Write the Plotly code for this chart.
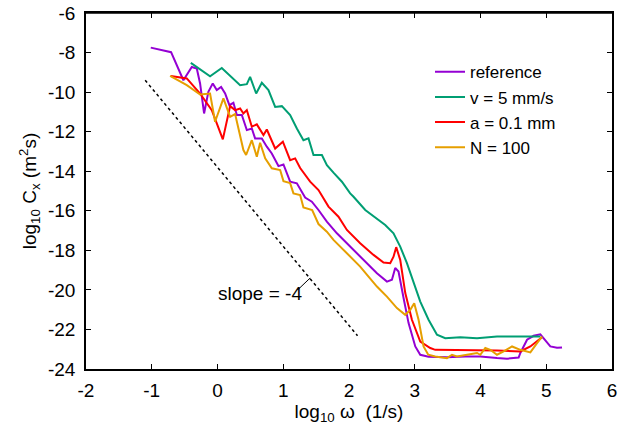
import plotly.graph_objects as go

# reference
ref_x = [-1.015, -0.706, -0.519, -0.391, -0.315, -0.265, -0.204, -0.139, -0.072, -0.011, 0.055, 0.116,
         0.181, 0.242, 0.294, 0.370, 0.446, 0.522, 0.572, 0.674, 0.750, 0.826, 0.927, 1.003, 1.105, 1.207,
         1.333, 1.435, 1.536, 1.663, 1.816, 2.018, 2.221, 2.425, 2.577, 2.653, 2.703, 2.753, 2.829, 2.906,
         3.008, 3.084, 3.210, 3.490, 3.769, 3.997, 4.251, 4.403, 4.580, 4.606, 4.708, 4.808, 4.910, 4.961,
         5.062, 5.164, 5.240]
ref_y = [-7.75, -7.98, -9.40, -8.73, -8.81, -9.56, -11.08, -9.99, -9.56, -9.90, -9.74, -10.07,
         -10.66, -10.54, -11.16, -11.16, -11.92, -11.84, -12.34, -12.34, -12.76, -13.10, -13.74, -13.66, -14.53, -14.61,
         -15.33, -15.54, -15.96, -16.55, -17.14, -17.81, -18.48, -19.16, -19.58, -19.49, -18.89, -19.07, -20.40, -21.68,
         -22.86, -23.28, -23.38, -23.40, -23.37, -23.37, -23.45, -23.48, -23.42, -23.19, -22.52, -22.32, -22.25, -22.44,
         -22.86, -22.93, -22.91]

# v = 5 mm/s
vel_x = [-0.406, -0.113, 0.065, 0.242, 0.344, 0.446, 0.496, 0.588, 0.674, 0.775, 0.877, 0.979, 1.105,
         1.207, 1.307, 1.384, 1.460, 1.588, 1.664, 1.764, 1.892, 2.018, 2.069, 2.247, 2.425, 2.551, 2.677,
         2.779, 2.881, 2.982, 3.084, 3.210, 3.338, 3.464, 3.693, 3.947, 4.251, 4.556, 4.910]
vel_y = [-8.52, -9.20, -8.78, -9.31, -9.65, -9.60, -9.23, -10.07, -9.53, -9.90, -10.75, -10.71, -11.16,
         -11.84, -12.43, -12.34, -13.18, -13.18, -13.69, -14.07, -14.53, -15.12, -15.29, -15.96, -16.38, -16.72, -17.14,
         -17.81, -18.65, -19.66, -20.59, -21.51, -22.27, -22.44, -22.39, -22.44, -22.36, -22.36, -22.36]

# a = 0.1 mm
amp_x = [-0.711, -0.467, -0.265, -0.087, -0.011, 0.081, 0.192, 0.268, 0.344, 0.394, 0.446, 0.522, 0.598,
         0.699, 0.750, 0.877, 0.994, 1.105, 1.181, 1.257, 1.409, 1.536, 1.688, 1.840, 1.968, 2.170, 2.373,
         2.525, 2.627, 2.677, 2.718, 2.779, 2.856, 2.957, 3.084, 3.236, 3.312, 3.743, 4.251, 4.606, 4.758, 4.936]
amp_y = [-9.18, -9.31, -10.07, -10.91, -11.58, -12.39, -10.71, -10.91, -10.83, -11.08, -10.91, -11.75, -11.63,
         -12.17, -11.89, -12.85, -12.51, -13.44, -13.35, -13.84, -14.53, -14.95, -15.79, -16.30, -16.97, -17.64, -18.23,
         -18.62, -18.65, -18.32, -17.84, -18.48, -20.16, -21.51, -22.61, -22.94, -23.03, -23.03, -23.06, -23.11, -22.86, -22.39]

# N = 100
num_x = [-0.721, -0.467, -0.265, -0.113, -0.037, 0.090, 0.192, 0.268, 0.394, 0.435, 0.522, 0.598, 0.648,
         0.725, 0.826, 0.953, 1.003, 1.105, 1.155, 1.257, 1.307, 1.440, 1.536, 1.663, 1.764, 1.866, 2.018,
         2.170, 2.297, 2.425, 2.577, 2.729, 2.855, 2.932, 2.992, 3.058, 3.134, 3.205, 3.312, 3.490, 3.566,
         3.642, 3.795, 3.947, 3.997, 4.073, 4.149, 4.251, 4.352, 4.480, 4.606, 4.758, 4.860, 4.936]
num_y = [-9.18, -9.65, -10.12, -10.07, -11.50, -10.32, -11.25, -11.11, -12.93, -13.18, -12.43, -13.27, -12.56,
         -13.35, -13.85, -13.94, -14.50, -14.60, -15.12, -15.20, -15.83, -15.96, -16.67, -17.06, -17.47, -17.81, -18.32,
         -18.82, -19.33, -19.83, -20.34, -20.92, -21.26, -21.01, -20.67, -21.51, -22.86, -23.28, -23.37, -23.45, -23.28,
         -23.37, -23.28, -23.19, -23.28, -22.94, -23.03, -23.28, -23.11, -22.86, -23.03, -23.16, -22.69, -22.36]

# slope = -4 guide line
slope_x = [-1.1, 2.13]
slope_y = [-9.4, -22.32]
leader_x = [1.232, 1.409]
leader_y = [-19.96, -19.40]

x_ticks = [-2, -1, 0, 1, 2, 3, 4, 5, 6]
y_ticks = [-24, -22, -20, -18, -16, -14, -12, -10, -8, -6]
x_range = [x_ticks[0], x_ticks[-1]]
y_range = [y_ticks[0], y_ticks[-1]]

FONT = "Liberation Sans, Arial, sans-serif"

fig = go.Figure()
# top edge of the frame, drawn along the upper end of the y range
fig.add_trace(go.Scatter(x=x_range, y=[y_range[1], y_range[1]], mode="lines", showlegend=False,
                         hoverinfo="skip", cliponaxis=False, line=dict(color="black", width=1.5)))
fig.add_trace(go.Scatter(x=slope_x, y=slope_y, mode="lines", showlegend=False,
                         line=dict(color="black", width=1.5, dash="dot")))
fig.add_trace(go.Scatter(x=leader_x, y=leader_y, mode="lines", showlegend=False,
                         line=dict(color="black", width=1)))
series = [
    ("reference", ref_x, ref_y, "#9400D3"),
    ("v = 5 mm/s", vel_x, vel_y, "#009E73"),
    ("a = 0.1 mm", amp_x, amp_y, "#FF0000"),
    ("N = 100", num_x, num_y, "#E69F00"),
]
for name, xs, ys, col in series:
    fig.add_trace(go.Scatter(x=xs, y=ys, mode="lines", name=name,
                             line=dict(color=col, width=2)))

fig.add_annotation(x=-0.03, y=-20.2, xref="x", yref="y", text="slope = -4", showarrow=False,
                   xanchor="left", yanchor="middle", font=dict(family=FONT, size=19, color="black"))

axis_common = dict(showgrid=False, zeroline=False, showline=True, linecolor="black", linewidth=1.5,
                   ticks="inside", ticklen=5, tickwidth=1.3, tickcolor="black",
                   ticklabeloverflow="allow",
                   tickfont=dict(family=FONT, size=19, color="black"))

fig.update_layout(
    xaxis=dict(range=x_range, tickvals=x_ticks, ticktext=[str(v) for v in x_ticks],
               ticklabelstandoff=3,
               title=dict(text="log<sub>10</sub> ω\u00a0\u00a0(1/s)", font=dict(family=FONT, size=19, color="black"),
                          standoff=1),
               **axis_common),
    yaxis=dict(range=y_range, tickvals=y_ticks, ticktext=[str(v) for v in y_ticks],
               ticklabelstandoff=5,
               title=dict(text="log<sub>10</sub> C<sub>x</sub> (m<sup>2</sup>s)",
                          font=dict(family=FONT, size=19, color="black"), standoff=6),
               **axis_common),
    xaxis2=dict(overlaying="x", side="top", matches="x", tickvals=x_ticks, showticklabels=False,
                showgrid=False, zeroline=False, showline=True, linecolor="black", linewidth=1.5,
                ticks="inside", ticklen=5, tickwidth=1.3, tickcolor="black"),
    yaxis2=dict(overlaying="y", side="right", matches="y", tickvals=y_ticks, showticklabels=False,
                showgrid=False, zeroline=False, showline=True, linecolor="black", linewidth=1.5,
                ticks="inside", ticklen=5, tickwidth=1.3, tickcolor="black"),
)
fig.add_trace(go.Scatter(x=[x_ticks[0]], y=[y_ticks[0]], xaxis="x2", yaxis="y2", mode="markers",
                         marker=dict(opacity=0), showlegend=False, hoverinfo="skip"))

fig.update_layout(
    width=621, height=434,
    margin=dict(l=86, r=9, t=13, b=65, autoexpand=False),
    plot_bgcolor="white", paper_bgcolor="white",
    font=dict(family=FONT, size=19, color="black"),
    legend=dict(x=0.654, y=0.884, xanchor="left", yanchor="top", bgcolor="rgba(0,0,0,0)",
                font=dict(family=FONT, size=17, color="black"), tracegroupgap=0),
)

fig.write_html("out.html", config={"displayModeBar": False},
               post_script="document.body.style.margin='0';")
